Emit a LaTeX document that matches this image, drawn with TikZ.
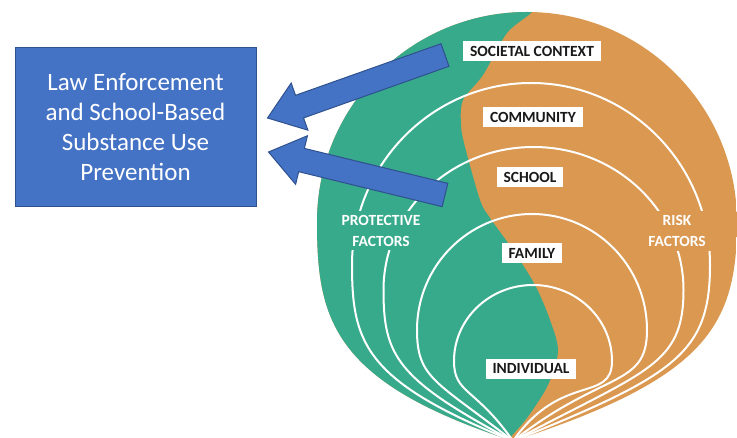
\documentclass[tikz,border=0pt]{standalone}
\usepackage{fontspec}
\setmainfont{Carlito}
\usetikzlibrary{calc}

\definecolor{protgreen}{HTML}{38AA8C}
\definecolor{riskorange}{HTML}{DA9850}
\definecolor{lawblue}{HTML}{4472C4}
\definecolor{lawblueline}{HTML}{2F528F}

% one ring of the onion: centre x, middle y, x radius, y radius, angle in at the bottom (left, right)
\newcommand{\ringline}[6]{%
  \draw[ringline] (#1-#3,#2) arc[start angle=180, end angle=0, x radius=#3, y radius=#4]
    to[out=270, out looseness=0.85, in=#6, in looseness=1.7] (bot)
    to[out=#5, out looseness=1.7, in=270, in looseness=0.85] (#1-#3,#2);}

% block arrow from tail to tip
\newcommand{\blockarrow}[2]{%
  \filldraw[arrowbody] ($(#1)!12pt!90:(#2)$) -- ($(#2)!34pt!(#1)!12pt!-90:(#1)$)
    -- ($(#2)!34pt!(#1)!25pt!-90:(#1)$) -- (#2) -- ($(#2)!34pt!(#1)!25pt!90:(#1)$)
    -- ($(#2)!34pt!(#1)!12pt!90:(#1)$) -- ($(#1)!12pt!-90:(#2)$) -- cycle;}

\tikzset{
  ringline/.style={white, line width=2pt},
  ringlabel/.style={fill=white, text=black!90, inner xsep=7pt, inner ysep=5pt,
    font=\bfseries\fontsize{15.5}{18}\selectfont},
  sidelabel/.style={text=white, align=center, inner xsep=6pt, inner ysep=4pt,
    font=\bfseries\fontsize{15.5}{21}\selectfont},
  lawbox/.style={fill=lawblue, draw=lawblueline, line width=1pt, text=white, align=center,
    minimum width=241pt, minimum height=159pt, font=\fontsize{25}{30}\selectfont},
  arrowbody/.style={fill=lawblue, draw=lawblueline, line width=1pt, line join=miter}
}

\begin{document}
\begin{tikzpicture}[x=1pt, y=1pt]
	\useasboundingbox (0,0) rectangle (737,438);
	\clip (0,0) rectangle (737,438);
	\coordinate (bot) at (513,-3);

	% the two halves
	\begin{scope}
		\clip (317,216) arc[start angle=180, end angle=0, radius=210]
			to[out=270, out looseness=0.85, in=18, in looseness=1.65] (bot)
			to[out=162, out looseness=1.65, in=270, in looseness=0.85] (317,216) -- cycle;
		\fill[riskorange] (0,-10) rectangle (737,440);
		\fill[protgreen] plot[smooth] coordinates {(536,440) (532,426) (507,405) (483,363) (463,338)
			(461,313) (465,291) (480,238) (490,220) (513,188) (535,153) (550,118) (558,87)
			(548,53) (527,20) (510,0) (506,-10)} -- (0,-10) -- (0,440) -- cycle;
	\end{scope}

	% rings
	\ringline{531}{173}{179}{182}{158}{22}
	\ringline{533.5}{148}{150}{143}{152}{28}
	\ringline{532}{108}{115}{116}{142}{38}
	\ringline{533}{77}{79}{76}{125}{55}

	% side texts
	\node[sidelabel, fill=protgreen] (protective) at (381,207.5) {PROTECTIVE\\FACTORS};
	\node[sidelabel, fill=riskorange] (risk) at (677,207) {RISK\\FACTORS};

	% ring labels
	\node[ringlabel] (societal) at (532,387) {SOCIETAL CONTEXT};
	\node[ringlabel] (community) at (533,321) {COMMUNITY};
	\node[ringlabel] (school) at (530,261) {SCHOOL};
	\node[ringlabel] (family) at (532,185) {FAMILY};
	\node[ringlabel] (individual) at (531,69) {INDIVIDUAL};

	% prevention box
	\node[lawbox] (law) at (135.5,310.5) {Law Enforcement\\and School-Based\\Substance Use\\Prevention};

	% arrows
	\coordinate (upper tail) at (445,383);
	\coordinate (upper tip) at ($(law.east)+(11,9.5)$);
	\coordinate (lower tail) at (445,243);
	\coordinate (lower tip) at ($(law.east)+(12,-24.5)$);
	\blockarrow{upper tail}{upper tip}
	\blockarrow{lower tail}{lower tip}
\end{tikzpicture}
\end{document}
